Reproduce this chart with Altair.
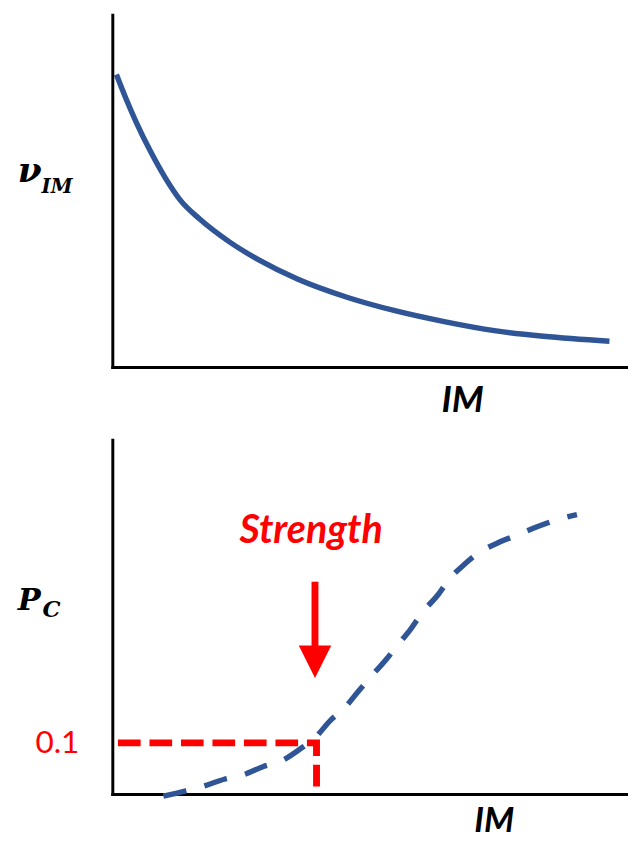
import altair as alt
import pandas as pd

# ---------------- data ----------------
# Top panel: nu_IM versus IM (decreasing curve)
top_im = [0.8, 2.7, 4.6, 7.4, 10.3, 13.1, 17.0, 22.7, 28.4, 36.0, 45.5, 55.0, 64.6, 74.1, 83.6, 96.4]
top_nu = [83.0, 76.0, 69.6, 61.2, 53.6, 47.5, 41.9, 35.5, 30.4, 24.9, 19.8, 15.9, 12.8, 10.3, 8.7, 7.3]

# Bottom panel: P_C versus IM (dashed S-curve)
bot_im = [9.9, 14.1, 17.5, 21.7, 25.5, 29.3, 32.8, 36.4, 39.4, 42.3, 45.1, 47.8, 50.3, 53.1,
          55.4, 57.9, 60.2, 63.2, 65.1, 68.4, 71.0, 75.0, 78.5, 82.5, 85.9, 90.1]
bot_pc = [-0.004, 0.006, 0.015, 0.029, 0.038, 0.054, 0.065, 0.088, 0.111, 0.144, 0.169, 0.202,
          0.231, 0.263, 0.292, 0.323, 0.356, 0.390, 0.417, 0.450, 0.471, 0.492, 0.506, 0.523,
          0.535, 0.546]

threshold_pc = 0.1
strength_im = 39.6
guide_im = [1.1, strength_im, strength_im]
guide_pc = [threshold_pc, threshold_pc, 0.015]

arrow_im = 39.3
arrow_shaft_pc = [0.415, 0.285]
arrow_head_pc = 0.2587

BLUE = "#2F5597"
RED = "#FF0000"

W = 524
H_TOP = 358
H_BOT = 360


def xenc(domain):
    return alt.X("im:Q", scale=alt.Scale(domain=domain, nice=False, zero=False),
                 axis=alt.Axis(title=""))


def label(text, x, y, size, font, color="black", style="normal", weight="normal", align="left"):
    return alt.Chart(pd.DataFrame({"t": [text]})).mark_text(
        font=font, fontSize=size, fontStyle=style, fontWeight=weight, color=color,
        align=align, baseline="alphabetic"
    ).encode(x=alt.value(x), y=alt.value(y), text="t:N")


# ---------------- top panel ----------------
top_df = pd.DataFrame({"im": top_im, "v": top_nu})
ytop = alt.Y("v:Q", scale=alt.Scale(domain=[0, 100], nice=False, zero=False),
             axis=alt.Axis(title=""))
top_curve = alt.Chart(top_df).mark_line(color=BLUE, strokeWidth=5.5, interpolate="monotone").encode(
    x=xenc([0, 100]), y=ytop
)
top = alt.layer(
    top_curve,
    label("ν", -96, 170, 35, "DejaVu Serif", style="italic", weight="bold"),
    label("IM", -72, 181, 20, "DejaVu Serif", style="italic", weight="bold"),
    label("IM", 356, 404, 37, "Lato", style="italic", weight="bold", align="center"),
).properties(width=W, height=H_TOP)

# ---------------- bottom panel ----------------
ybot_scale = alt.Scale(domain=[0, 0.6923], nice=False, zero=False)
bot_df = pd.DataFrame({"im": bot_im, "v": bot_pc})
ybot = alt.Y("v:Q", scale=ybot_scale,
             axis=alt.Axis(title="", values=[threshold_pc], labels=True, labelColor=RED,
                           labelFont="Lato", labelFontSize=32, labelPadding=34, tickSize=0,
                           labelExpr="'0.1'"))

bot_curve = alt.Chart(bot_df).mark_line(
    color=BLUE, strokeWidth=5.5, strokeDash=[24, 19], interpolate="monotone"
).encode(x=xenc([0, 100]), y=ybot)

guide_df = pd.DataFrame({"im": guide_im, "v": guide_pc, "o": [0, 1, 2]})
guides = alt.Chart(guide_df).mark_line(color=RED, strokeWidth=7, strokeDash=[23, 9]).encode(
    x=xenc([0, 100]), y=alt.Y("v:Q", scale=ybot_scale), order="o:O"
)

shaft_df = pd.DataFrame({"im": [arrow_im], "v": [arrow_shaft_pc[0]], "v2": [arrow_shaft_pc[1]]})
shaft = alt.Chart(shaft_df).mark_rule(color=RED, strokeWidth=7).encode(
    x=xenc([0, 100]), y=alt.Y("v:Q", scale=ybot_scale), y2="v2:Q"
)
head_df = pd.DataFrame({"im": [arrow_im], "v": [arrow_head_pc]})
head = alt.Chart(head_df).mark_point(
    shape="M-1,-1L1,-1L0,1Z", size=1089, filled=True, color=RED, opacity=1
).encode(x=xenc([0, 100]), y=alt.Y("v:Q", scale=ybot_scale))

bottom = alt.layer(
    bot_curve,
    guides,
    shaft,
    head,
    label("Strength", 202, 105, 40, "Lato", color=RED, style="italic", weight="bold", align="center"),
    label("P", -96, 173, 31, "DejaVu Serif", style="italic", weight="bold"),
    label("C", -71, 180, 23, "DejaVu Serif", style="italic", weight="bold"),
    label("IM", 388, 399, 35, "Lato", style="italic", weight="bold", align="center"),
).properties(width=W, height=H_BOT)

chart = alt.vconcat(top, bottom, spacing=21).properties(
    padding={"left": 10, "top": 0, "right": 0, "bottom": 0},
    background="white",
).configure_view(stroke=None).configure_axis(
    domainColor="black", domainWidth=3, domainCap="square", ticks=False, labels=False,
    grid=False
)

chart.save("out.html", embed_options={"renderer": "svg", "actions": False})
